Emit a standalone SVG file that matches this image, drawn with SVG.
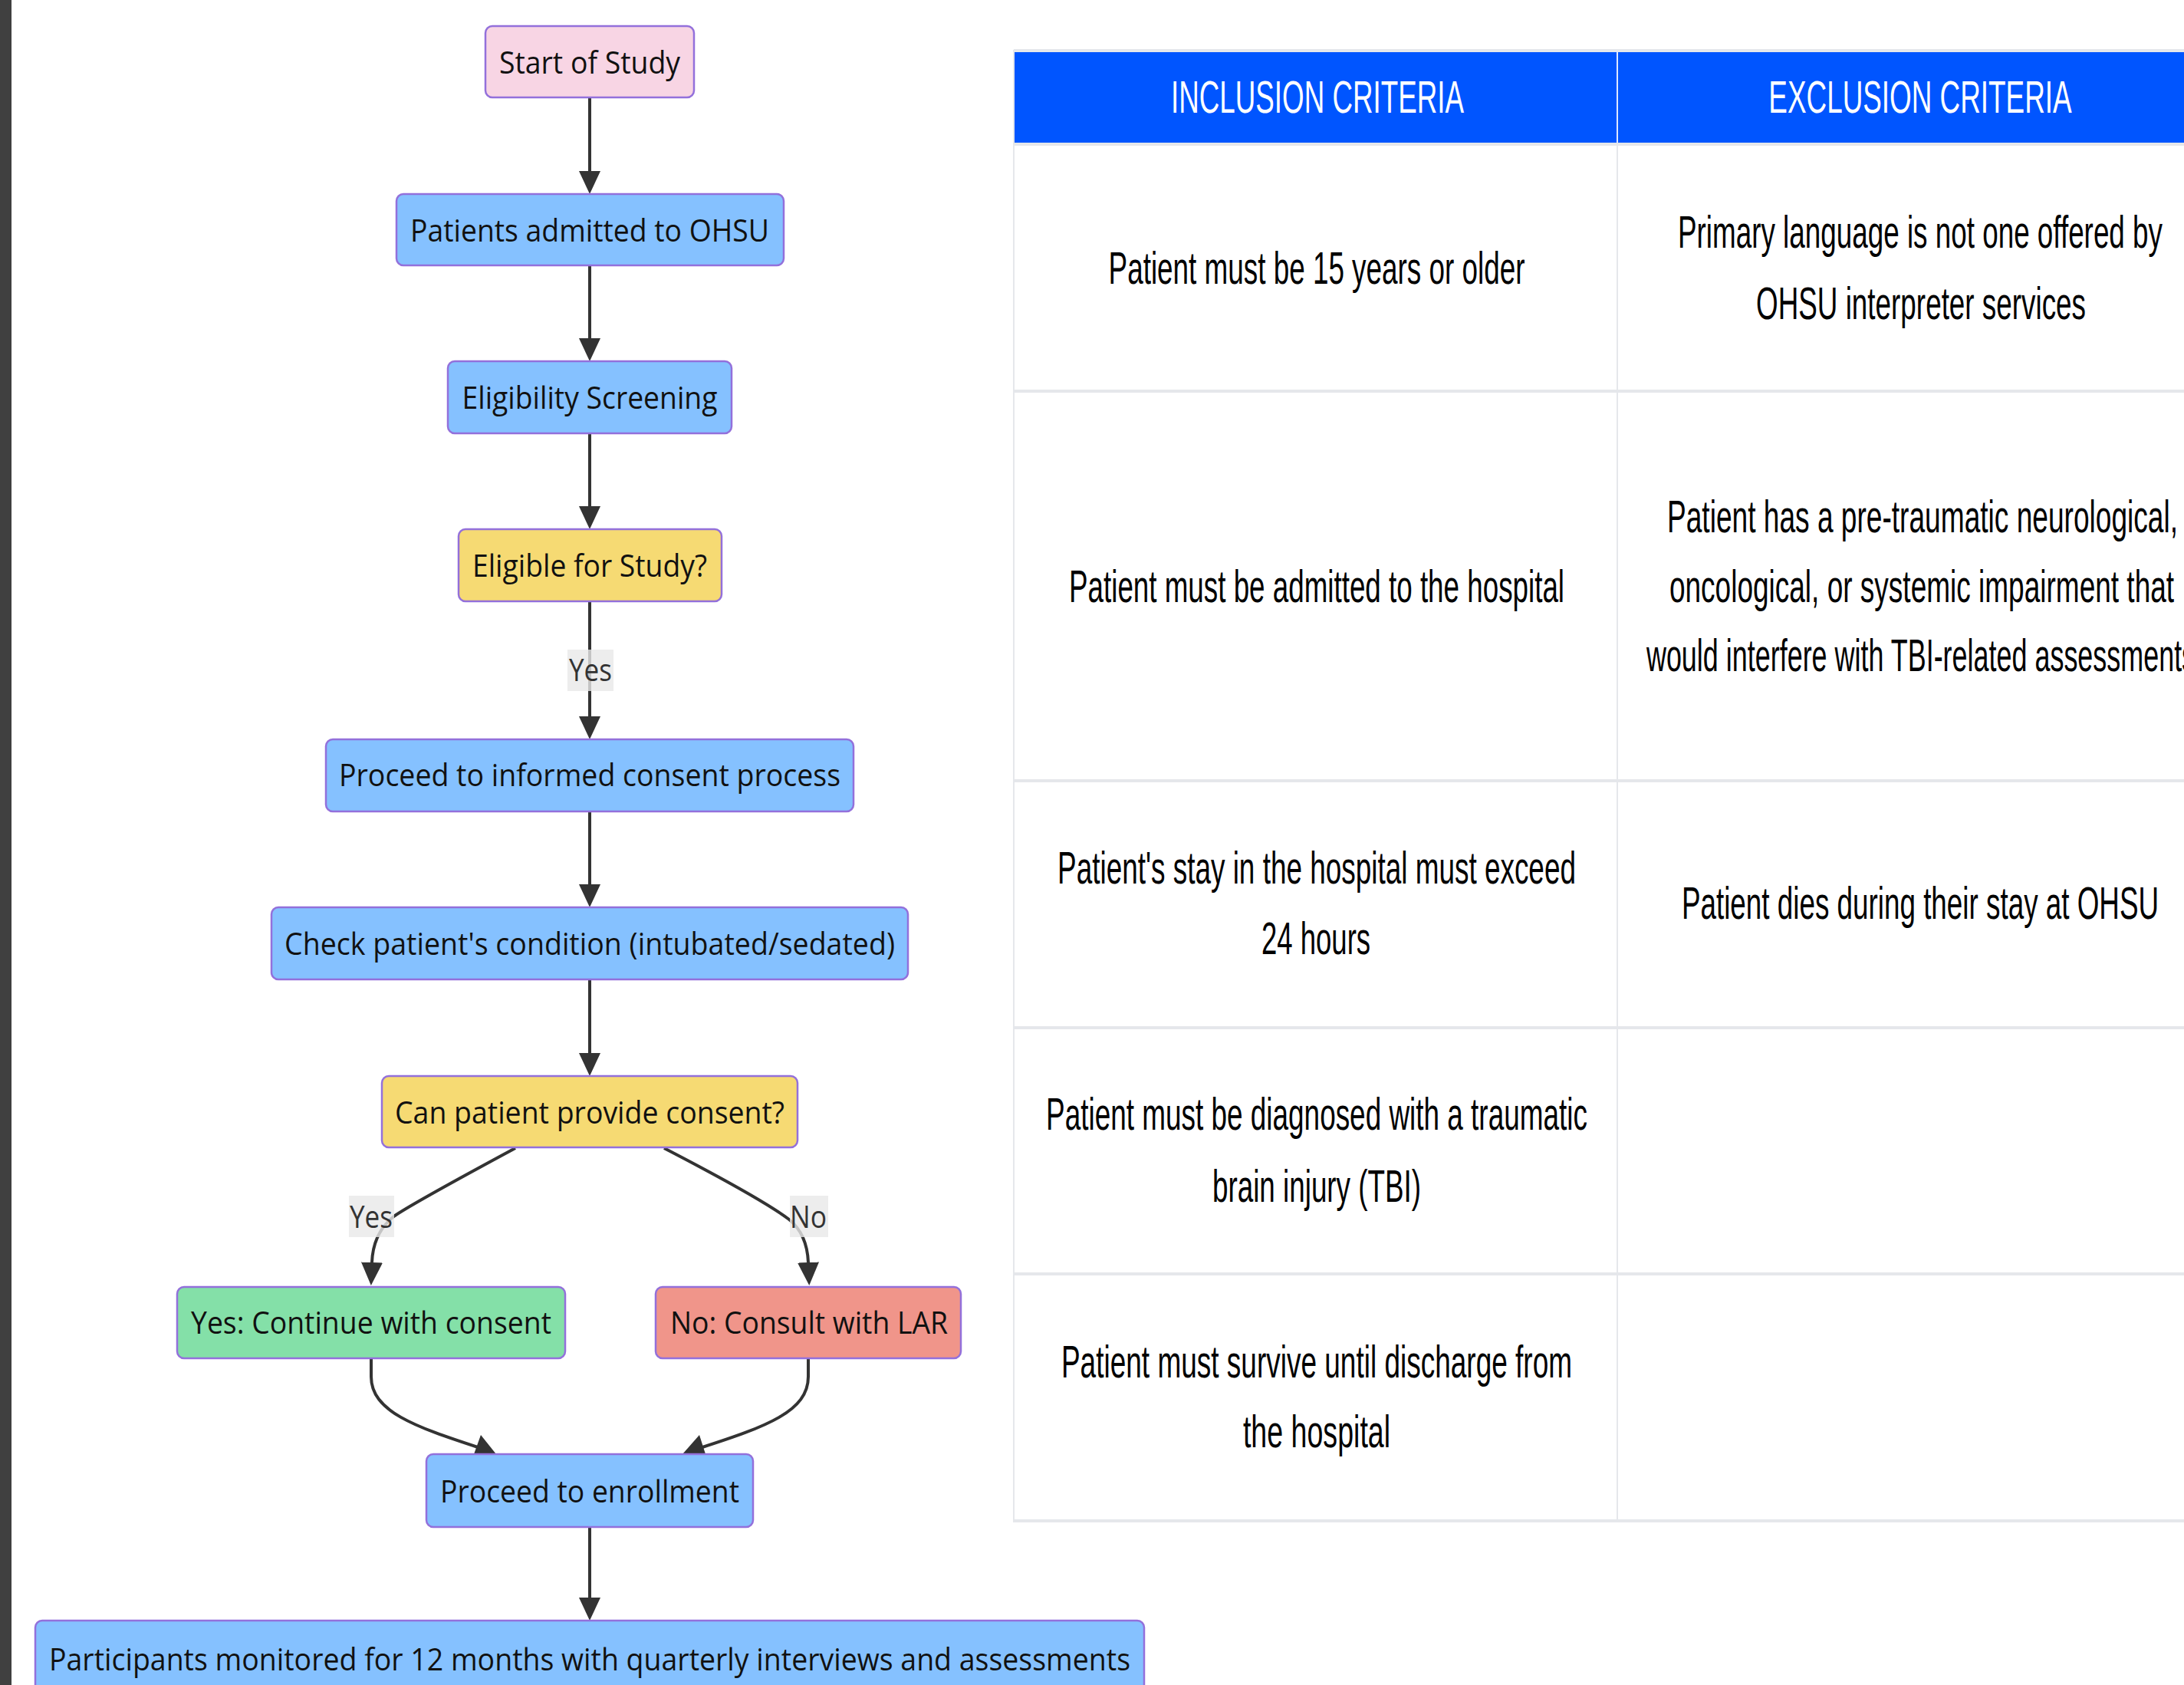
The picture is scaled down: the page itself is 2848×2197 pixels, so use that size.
<svg xmlns="http://www.w3.org/2000/svg" width="2848" height="2197" viewBox="0 0 2848 2197">
<defs>
<style>
.node rect{stroke:#9370DB;stroke-width:2.5}
.blue{fill:#85C1FF}
.pink{fill:#F8D5E4}
.yellow{fill:#F6DA73}
.green{fill:#84E0A8}
.red{fill:#F0958A}
.nt{font-family:"Open Sans","Noto Sans",sans-serif;font-size:40px;fill:#111;text-anchor:middle}
.lbl{font-family:"Open Sans","Noto Sans",sans-serif;font-size:40px;fill:#333;text-anchor:middle}
.lblbg{fill:#E8E8E8;fill-opacity:0.8}
.edge{fill:none;stroke:#333;stroke-width:4}
.th{font-family:"Liberation Sans",Arial,sans-serif;font-size:60px;fill:#fff;text-anchor:middle}
.td{font-family:"Liberation Sans",Arial,sans-serif;font-size:60px;fill:#000;text-anchor:middle}
.hl{stroke:#E5E7EB;stroke-width:4}
.vl{stroke:#E5E7EB;stroke-width:2}
</style>
<marker id="arr" viewBox="0 0 30 28" refX="0" refY="14" markerWidth="30" markerHeight="28" markerUnits="userSpaceOnUse" orient="auto">
<path d="M0,0 L30,14 L0,28 z" fill="#333"/>
</marker>
</defs>
<rect x="0" y="0" width="2848" height="2197" fill="#fff"/>
<rect x="0" y="0" width="15" height="2197" fill="#404040"/>

<!-- Table -->
<g id="criteria-table">
<rect x="1322" y="67" width="1580" height="120" fill="#0055FF"/>
<line x1="1322" y1="66" x2="2848" y2="66" class="hl" stroke-width="3"/>
<line x1="2109" y1="67" x2="2109" y2="187" stroke="#DDE6FF" stroke-width="2"/>
<line x1="1322" y1="188" x2="2848" y2="188" class="hl"/>
<line x1="1322" y1="510" x2="2848" y2="510" class="hl"/>
<line x1="1322" y1="1018" x2="2848" y2="1018" class="hl"/>
<line x1="1322" y1="1340" x2="2848" y2="1340" class="hl"/>
<line x1="1322" y1="1661" x2="2848" y2="1661" class="hl"/>
<line x1="1322" y1="1983" x2="2848" y2="1983" class="hl"/>
<line x1="1322" y1="65" x2="1322" y2="1985" class="vl"/>
<line x1="2109" y1="190" x2="2109" y2="1983" class="vl" stroke-width="1.5"/>
<text class="th" transform="translate(1718,147) scale(0.61,1)" textLength="626" lengthAdjust="spacingAndGlyphs">INCLUSION CRITERIA</text>
<text class="th" transform="translate(2504,147) scale(0.61,1)" textLength="648" lengthAdjust="spacingAndGlyphs">EXCLUSION CRITERIA</text>

<text class="td" transform="translate(1717,370) scale(0.61,1)" textLength="890" lengthAdjust="spacingAndGlyphs">Patient must be 15 years or older</text>
<text class="td" transform="translate(2504,323) scale(0.61,1)" textLength="1036" lengthAdjust="spacingAndGlyphs">Primary language is not one offered by</text>
<text class="td" transform="translate(2505,416) scale(0.61,1)" textLength="705" lengthAdjust="spacingAndGlyphs">OHSU interpreter services</text>

<text class="td" transform="translate(1717,785) scale(0.61,1)" textLength="1059" lengthAdjust="spacingAndGlyphs">Patient must be admitted to the hospital</text>
<text class="td" transform="translate(2507,694) scale(0.61,1)" textLength="1092" lengthAdjust="spacingAndGlyphs">Patient has a pre-traumatic neurological,</text>
<text class="td" transform="translate(2506,785) scale(0.61,1)" textLength="1079" lengthAdjust="spacingAndGlyphs">oncological, or systemic impairment that</text>
<text class="td" transform="translate(2505,875) scale(0.61,1)" textLength="1174" lengthAdjust="spacingAndGlyphs">would interfere with TBI-related assessments</text>

<text class="td" transform="translate(1717,1152) scale(0.61,1)" textLength="1108" lengthAdjust="spacingAndGlyphs">Patient's stay in the hospital must exceed</text>
<text class="td" transform="translate(1716,1244) scale(0.61,1)" textLength="233" lengthAdjust="spacingAndGlyphs">24 hours</text>
<text class="td" transform="translate(2504,1198) scale(0.61,1)" textLength="1020" lengthAdjust="spacingAndGlyphs">Patient dies during their stay at OHSU</text>

<text class="td" transform="translate(1717,1473) scale(0.61,1)" textLength="1157" lengthAdjust="spacingAndGlyphs">Patient must be diagnosed with a traumatic</text>
<text class="td" transform="translate(1717,1567) scale(0.61,1)" textLength="446" lengthAdjust="spacingAndGlyphs">brain injury (TBI)</text>

<text class="td" transform="translate(1717,1796) scale(0.61,1)" textLength="1092" lengthAdjust="spacingAndGlyphs">Patient must survive until discharge from</text>
<text class="td" transform="translate(1717,1887) scale(0.61,1)" textLength="315" lengthAdjust="spacingAndGlyphs">the hospital</text>
</g>

<!-- Connectors -->
<g id="connectors">
<path class="edge" d="M769,127 L769,223" marker-end="url(#arr)"/>
<path class="edge" d="M769,346 L769,441" marker-end="url(#arr)"/>
<path class="edge" d="M769,565 L769,660" marker-end="url(#arr)"/>
<path class="edge" d="M769,784 L769,934" marker-end="url(#arr)"/>
<path class="edge" d="M769,1058 L769,1153" marker-end="url(#arr)"/>
<path class="edge" d="M769,1277 L769,1373" marker-end="url(#arr)"/>
<path class="edge" d="M672,1497 C620,1525 540,1568 515,1585 C495,1600 486,1620 485,1646" marker-end="url(#arr)"/>
<path class="edge" d="M866,1497 C920,1525 1000,1568 1029,1590 C1045,1603 1053,1622 1054,1646" marker-end="url(#arr)"/>
<path class="edge" d="M484,1771 L484,1795 C484,1840 540,1860 626,1888"/>
<polygon points="627,1871 618,1896 647,1896" fill="#333"/>
<path class="edge" d="M1054,1771 L1054,1795 C1054,1840 1000,1860 913,1888"/>
<polygon points="912,1871 890,1896 920,1896" fill="#333"/>
<path class="edge" d="M769,1991 L769,2083" marker-end="url(#arr)"/>
<g id="label-yes-1">
<rect class="lblbg" x="740" y="847" width="60" height="54"/>
<text class="lbl" x="770" y="888" textLength="56" lengthAdjust="spacingAndGlyphs">Yes</text>
</g>
<g id="label-yes-2">
<rect class="lblbg" x="455" y="1559" width="59" height="54"/>
<text class="lbl" x="484" y="1601" textLength="56" lengthAdjust="spacingAndGlyphs">Yes</text>
</g>
<g id="label-no">
<rect class="lblbg" x="1030" y="1559" width="50" height="54"/>
<text class="lbl" x="1054" y="1601" textLength="48" lengthAdjust="spacingAndGlyphs">No</text>
</g>
</g>

<!-- Nodes -->
<g id="start" class="node"><rect class="pink" x="633" y="34" width="272" height="93" rx="9"/><text class="nt" x="769" y="96" textLength="236" lengthAdjust="spacingAndGlyphs">Start of Study</text></g>
<g id="admitted" class="node"><rect class="blue" x="517" y="253" width="505" height="93" rx="9"/><text class="nt" x="769" y="315" textLength="468" lengthAdjust="spacingAndGlyphs">Patients admitted to OHSU</text></g>
<g id="screening" class="node"><rect class="blue" x="584" y="471" width="370" height="94" rx="9"/><text class="nt" x="769" y="533" textLength="333" lengthAdjust="spacingAndGlyphs">Eligibility Screening</text></g>
<g id="eligible" class="node"><rect class="yellow" x="598" y="690" width="343" height="94" rx="9"/><text class="nt" x="769" y="752" textLength="306" lengthAdjust="spacingAndGlyphs">Eligible for Study?</text></g>
<g id="consent-process" class="node"><rect class="blue" x="425" y="964" width="688" height="94" rx="9"/><text class="nt" x="769" y="1025" textLength="654" lengthAdjust="spacingAndGlyphs">Proceed to informed consent process</text></g>
<g id="check" class="node"><rect class="blue" x="354" y="1183" width="830" height="94" rx="9"/><text class="nt" x="769" y="1245" textLength="796" lengthAdjust="spacingAndGlyphs">Check patient's condition (intubated/sedated)</text></g>
<g id="can-consent" class="node"><rect class="yellow" x="498" y="1403" width="542" height="93" rx="9"/><text class="nt" x="769" y="1465" textLength="508" lengthAdjust="spacingAndGlyphs">Can patient provide consent?</text></g>
<g id="yes-continue" class="node"><rect class="green" x="231" y="1678" width="506" height="93" rx="9"/><text class="nt" x="484" y="1739" textLength="470" lengthAdjust="spacingAndGlyphs">Yes: Continue with consent</text></g>
<g id="no-lar" class="node"><rect class="red" x="855" y="1678" width="398" height="93" rx="9"/><text class="nt" x="1055" y="1739" textLength="362" lengthAdjust="spacingAndGlyphs">No: Consult with LAR</text></g>
<g id="enrollment" class="node"><rect class="blue" x="556" y="1896" width="426" height="95" rx="9"/><text class="nt" x="769" y="1959" textLength="390" lengthAdjust="spacingAndGlyphs">Proceed to enrollment</text></g>
<g id="monitored" class="node"><rect class="blue" x="46" y="2113" width="1446" height="94" rx="9"/><text class="nt" x="769" y="2178" textLength="1410" lengthAdjust="spacingAndGlyphs">Participants monitored for 12 months with quarterly interviews and assessments</text></g>
</svg>
